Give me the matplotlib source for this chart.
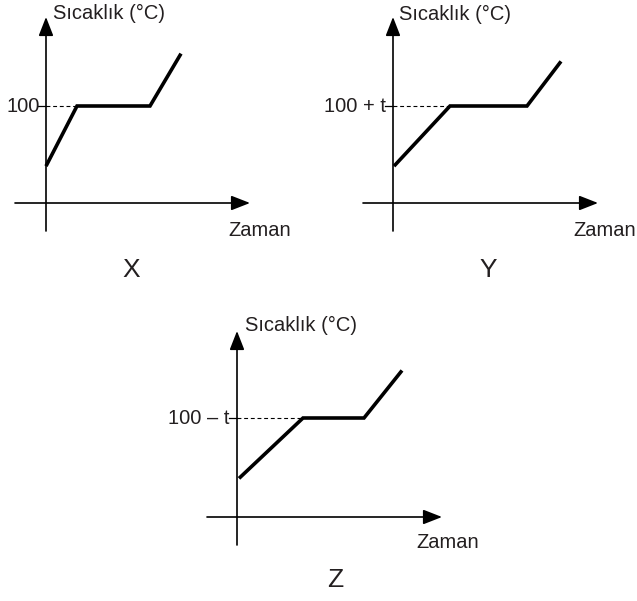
import matplotlib
matplotlib.use('Agg')
import matplotlib.pyplot as plt

W, H, DPI = 637, 601, 100
INK = '#231f20'
plt.rcParams['font.family'] = ['Liberation Sans', 'DejaVu Sans']

# ---- data (time in arbitrary units, temperature in °C, plateau = boiling point) ----
panel_names = ['X', 'Y', 'Z']
level_labels = ['100', '100 + t', '100 – t']
y_title = 'Sıcaklık (°C)'
x_title = 'Zaman'

time_X = [0, 31, 104, 135]
temp_X = [38, 100, 100, 154]
time_Y = [1, 57, 134, 168]
temp_Y = [38, 100, 100, 146]
time_Z = [2, 66, 127, 165]
temp_Z = [39, 100, 100, 148]

# ---- layout (pixels) ----
layouts = [
    dict(box=(0, 0, 310, 300), origin=(46, 203), plat=97,
         xax=(-31, 204), yax=(-28, 186),
         ytitle=(7, 190), xtitle=(182, -27), lab=(-6, 0), name=(85, -67)),
    dict(box=(310, 0, 637, 300), origin=(393, 203), plat=97,
         xax=(-30, 205), yax=(-28, 186),
         ytitle=(6, 189), xtitle=(180, -27), lab=(-7, 0), name=(95, -67)),
    dict(box=(150, 300, 480, 601), origin=(237, 517), plat=99,
         xax=(-30, 205), yax=(-28, 186),
         ytitle=(8, 192), xtitle=(179, -26), lab=(-7, 0), name=(98, -63)),
]

fig = plt.figure(figsize=(W / DPI, H / DPI), dpi=DPI)
fig.patch.set_facecolor('white')

series = [(time_X, temp_X), (time_Y, temp_Y), (time_Z, temp_Z)]
FS = 14.5

for name, label, (t, T), L in zip(panel_names, level_labels, series, layouts):
    px0, py0, px1, py1 = L['box']
    ox, oy = L['origin']
    s = L['plat'] / 100.0  # pixels per °C
    ax = fig.add_axes([px0 / W, 1 - py1 / H, (px1 - px0) / W, (py1 - py0) / H])
    ax.set_xlim(px0 - ox, px1 - ox)
    ax.set_ylim((oy - py1) / s, (oy - py0) / s)
    ax.axis('off')

    ap = dict(arrowstyle='-|>,head_length=1.15,head_width=0.45', lw=1.2,
              color='black', shrinkA=0, shrinkB=0, mutation_scale=10)
    ax.annotate('', xy=(L['xax'][1], 0), xytext=(L['xax'][0], 0), arrowprops=ap)
    ax.annotate('', xy=(0, L['yax'][1] / s), xytext=(0, L['yax'][0] / s), arrowprops=ap)

    # dashed guide to plateau
    ax.plot([0, t[1]], [T[1], T[1]], color='black', lw=0.8, ls=(0, (3.5, 2.5)))
    # small tick at plateau level
    ax.plot([-8, 0], [T[1], T[1]], color='black', lw=0.9)
    # heating curve
    ax.plot(t, T, color='black', lw=2.6, solid_joinstyle='miter', solid_capstyle='butt', zorder=5)

    # texts
    ax.annotate(y_title, xy=(0, 0), xytext=L['ytitle'], textcoords='offset pixels',
                ha='left', va='center', fontsize=FS, color=INK)
    ax.annotate(x_title, xy=(0, 0), xytext=L['xtitle'], textcoords='offset pixels',
                ha='left', va='center', fontsize=FS, color=INK)
    ax.annotate(label, xy=(L['lab'][0], T[1]), xytext=(0, 0), textcoords='offset pixels',
                ha='right', va='center', fontsize=FS, color=INK)
    ax.annotate(name, xy=(0, 0), xytext=L['name'], textcoords='offset pixels',
                ha='center', va='center', fontsize=19, color=INK)

fig.savefig('out.png', dpi=DPI, facecolor='white')
